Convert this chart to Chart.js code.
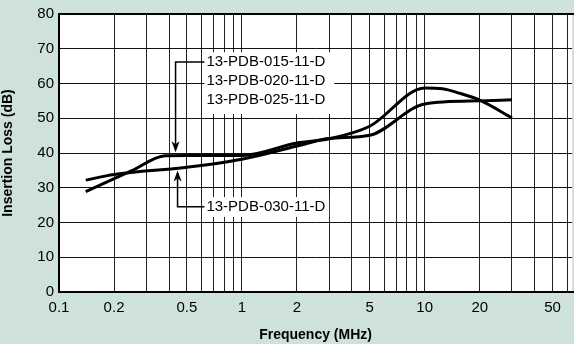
<!DOCTYPE html>
<html>
<head>
<meta charset="utf-8">
<script src="https://cdn.jsdelivr.net/npm/chart.js@4"></script>
<style>
  html, body { margin: 0; padding: 0; background: #cfe2da; }
  #wrap { width: 574px; height: 344px; }
</style>
</head>
<body>
<div id="wrap"><canvas id="loss"></canvas></div>
<script>
const freqA = [0.14, 0.25, 0.38, 0.5, 1.0, 2, 3, 5, 10, 12.5, 15.5, 20, 30];
const lossA = [28.9, 34.9, 39.2, 39.3, 39.3, 42.9, 44.1, 47.7, 58.7, 58.5, 57.2, 55.2, 50.1];

const freqB = [0.14, 0.2, 0.5, 1.0, 2, 3, 5, 10, 20, 30];
const lossB = [32.2, 33.8, 35.9, 38.2, 42.0, 44.2, 45.1, 54.1, 55.0, 55.3];

const tickLabels = [0.1, 0.2, 0.5, 1, 2, 5, 10, 20, 50];
const gridFreqs = [0.1, 0.2, 0.3, 0.4, 0.5, 0.6, 0.7, 0.8, 0.9,
  1, 2, 3, 4, 5, 6, 7, 8, 9, 10, 20, 30, 40, 50, 60];

const labelsTop = ['13-PDB-015-11-D', '13-PDB-020-11-D', '13-PDB-025-11-D'];
const labelBottom = '13-PDB-030-11-D';

const toPoints = (xs, ys) => xs.map((x, i) => ({ x: x, y: ys[i] }));

const font = '"Liberation Sans", Arial, sans-serif';

function arrow(ctx, x, y, dir) {
  // dir: 1 = pointing down, -1 = pointing up
  ctx.beginPath();
  ctx.moveTo(x, y);
  ctx.lineTo(x - 4, y - dir * 11);
  ctx.lineTo(x, y - dir * 8);
  ctx.lineTo(x + 4, y - dir * 11);
  ctx.closePath();
  ctx.fill();
}

const callouts = {
  id: 'callouts',
  beforeDatasetsDraw(chart) {
    const { ctx, scales: { x, y } } = chart;
    ctx.save();
    // white label boxes over the grid
    ctx.fillStyle = '#fff';
    const b1x = x.getPixelForValue(0.625), b1r = x.getPixelForValue(3.2);
    ctx.fillRect(b1x, y.getPixelForValue(69), b1r - b1x, y.getPixelForValue(51.2) - y.getPixelForValue(69));
    ctx.fillRect(b1x, y.getPixelForValue(27.3), x.getPixelForValue(3.0) - b1x, y.getPixelForValue(21.6) - y.getPixelForValue(27.3));

    ctx.fillStyle = '#000';
    ctx.font = '15px ' + font;
    ctx.textBaseline = 'middle';
    const tx = x.getPixelForValue(0.64);
    labelsTop.forEach((t, i) => {
      ctx.fillText(t, tx, y.getPixelForValue(66.2) + i * 19);
    });
    ctx.fillText(labelBottom, tx, y.getPixelForValue(24.5));

    // leaders
    ctx.strokeStyle = '#000';
    ctx.lineWidth = 1.5;
    const ax1 = x.getPixelForValue(0.434);
    const ly1 = y.getPixelForValue(66.2);
    const tip1 = y.getPixelForValue(40.2);
    ctx.beginPath();
    ctx.moveTo(tx - 2, ly1);
    ctx.lineTo(ax1, ly1);
    ctx.lineTo(ax1, tip1 - 8);
    ctx.stroke();
    arrow(ctx, ax1, tip1, 1);

    const ax2 = x.getPixelForValue(0.445);
    const ly2 = y.getPixelForValue(24.5);
    const tip2 = y.getPixelForValue(35.0);
    ctx.beginPath();
    ctx.moveTo(tx - 2, ly2);
    ctx.lineTo(ax2, ly2);
    ctx.lineTo(ax2, tip2 + 8);
    ctx.stroke();
    arrow(ctx, ax2, tip2, -1);
    ctx.restore();
  }
};

const frame = {
  id: 'frame',
  afterDraw(chart) {
    const { ctx, chartArea: a } = chart;
    ctx.save();
    ctx.strokeStyle = '#000';
    ctx.lineWidth = 2;
    ctx.beginPath();
    ctx.moveTo(a.right + 2, a.top);
    ctx.lineTo(a.left, a.top);
    ctx.lineTo(a.left, a.bottom);
    ctx.lineTo(a.right + 2, a.bottom);
    ctx.stroke();
    ctx.restore();
  }
};

const plotBg = {
  id: 'plotBg',
  beforeDraw(chart) {
    const { ctx, chartArea: a } = chart;
    ctx.save();
    ctx.fillStyle = '#fff';
    ctx.fillRect(a.left, a.top, a.right - a.left, a.bottom - a.top);
    ctx.restore();
  }
};

const lineStyle = {
  borderColor: '#000',
  borderWidth: 3,
  pointRadius: 0,
  fill: false,
  cubicInterpolationMode: 'monotone'
};

new Chart(document.getElementById('loss'), {
  type: 'line',
  data: {
    datasets: [
      Object.assign({ label: '13-PDB-015/020/025-11-D', data: toPoints(freqA, lossA) }, lineStyle),
      Object.assign({ label: '13-PDB-030-11-D', data: toPoints(freqB, lossB) }, lineStyle)
    ]
  },
  options: {
    responsive: true,
    maintainAspectRatio: false,
    animation: false,
    layout: { padding: { top: 12, right: 0, left: 0, bottom: 0 } },
    plugins: {
      legend: { display: false },
      tooltip: { enabled: false }
    },
    scales: {
      x: {
        type: 'logarithmic',
        min: 0.1,
        max: 64,
        afterBuildTicks(scale) {
          scale.ticks = gridFreqs.map(v => ({ value: v }));
        },
        afterFit(scale) { scale.height = 52; },
        ticks: {
          autoSkip: false,
          maxRotation: 0,
          color: '#000',
          font: { family: font, size: 15 },
          padding: 7,
          callback: v => tickLabels.includes(+v.toFixed(2)) ? String(+v.toFixed(2)) : ''
        },
        grid: { color: '#222', lineWidth: 1, drawTicks: false },
        border: { display: false },
        title: {
          display: true,
          text: 'Frequency (MHz)',
          color: '#000',
          font: { family: font, size: 14, weight: 'bold' },
          padding: { top: 9, bottom: 0 }
        }
      },
      y: {
        min: 0,
        max: 80,
        afterFit(scale) { scale.width = 59; },
        ticks: {
          stepSize: 10,
          color: '#000',
          font: { family: font, size: 15 },
          padding: 5
        },
        grid: { color: '#111', lineWidth: 1, drawTicks: false },
        border: { display: false },
        title: {
          display: true,
          text: 'Insertion Loss (dB)',
          color: '#000',
          font: { family: font, size: 14, weight: 'bold' },
          padding: { top: 0, bottom: 2 }
        }
      }
    }
  },
  plugins: [plotBg, callouts, frame]
});
</script>
</body>
</html>
